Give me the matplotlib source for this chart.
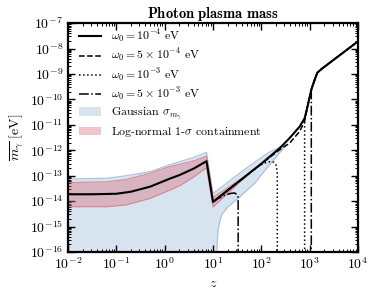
import numpy as np
import matplotlib
matplotlib.use("Agg")
import matplotlib.pyplot as plt
from matplotlib.ticker import LogLocator, FuncFormatter, NullFormatter
from matplotlib.patches import Patch

plt.rcParams['font.family'] = 'serif'
plt.rcParams['font.serif'] = ['cmr10', 'DejaVu Serif']
plt.rcParams['mathtext.fontset'] = 'cm'
plt.rcParams['axes.unicode_minus'] = False
plt.rcParams['axes.formatter.use_mathtext'] = True

# ---- data (log10 z, log10 m in eV) ----
# mean mass, omega_0 = 1e-4 eV
lz_solid = [-2, -1.5, -1, -0.7, -0.3, 0.1, 0.314, 0.6, 0.866, 1.0, 1.5, 2.0, 2.38,
            2.587, 2.793, 2.897, 2.965, 3.035, 3.10, 3.16, 3.25, 4.0]
lm_solid = [-13.73, -13.73, -13.71, -13.63, -13.43, -13.12, -12.97, -12.72, -12.43,
            -14.03, -13.28, -12.53, -11.92, -11.52, -11.07, -10.74, -10.21, -9.62,
            -9.25, -8.95, -8.80, -7.72]

# omega_0 = 5e-4 eV
lz_dash = [1.0, 1.5, 2.0, 2.2, 2.38, 2.587, 2.793, 2.897, 2.93, 2.965, 3.035, 3.10,
           3.16, 3.25, 4.0]
lm_dash = [-14.03, -13.28, -12.53, -12.24, -11.98, -11.72, -11.26, -10.86, -10.55,
           -10.21, -9.62, -9.25, -8.95, -8.80, -7.72]

# omega_0 = 1e-3 eV (nan = no plasma mass)
lz_dot = [1.0, 1.5, 1.8, 1.95, 2.07, 2.17, 2.26, 2.31, 2.33, 2.332, np.nan,
          2.897, 2.8971, 2.965, 3.035, 3.10, 3.16, 3.25, 4.0]
lm_dot = [-14.03, -13.28, -12.83, -12.62, -12.50, -12.45, -12.47, -12.60, -12.90,
          -17, np.nan, -17, -10.80, -10.21, -9.62, -9.25, -8.95, -8.80, -7.72]

# omega_0 = 5e-3 eV
lz_dd = [1.0, 1.1, 1.25, 1.38, 1.45, 1.5, 1.52, 1.522, np.nan,
         3.035, 3.0351, 3.10, 3.16, 3.25, 4.0]
lm_dd = [-14.03, -13.90, -13.76, -13.69, -13.68, -13.75, -13.85, -17, np.nan,
         -17, -9.62, -9.25, -8.95, -8.80, -7.72]

# Gaussian sigma band
lz_gauss = [-2, -1.2, -0.8, -0.3, 0.1, 0.314, 0.6, 0.866, 1.0, 1.06, 1.08, 1.105,
            1.175, 1.31, 1.52, 1.86, 2.14, 2.4, 2.5]
lm_gauss_hi = [-13.13, -13.10, -13.00, -12.84, -12.57, -12.45, -12.28, -12.08,
               -13.69, -13.62, -13.59, -13.55, -13.45, -13.25, -12.94, -12.47,
               -12.10, -11.86, -11.77]
lm_gauss_lo = [-17, -17, -17, -17, -17, -17, -17, -17, -17, -17, -15.9, -15.13,
               -14.54, -14.22, -13.89, -13.30, -12.64, -12.05, -11.80]

# log-normal 1-sigma band
lz_logn = [-2, -1.2, -0.8, -0.3, 0.1, 0.314, 0.6, 0.866, 1.0, 1.3, 1.6, 1.9]
lm_logn_hi = [-13.27, -13.24, -13.15, -12.90, -12.64, -12.55, -12.42, -12.23,
              -13.85, -13.48, -13.10, -12.68]
lm_logn_lo = [-14.22, -14.22, -14.15, -13.89, -13.57, -13.39, -13.05, -12.68,
              -14.23, -13.70, -13.17, -12.68]

labels = [r'$\omega_0 = 10^{-4}$ eV', r'$\omega_0 = 5\times10^{-4}$ eV',
          r'$\omega_0 = 10^{-3}$ eV', r'$\omega_0 = 5\times10^{-3}$ eV']


def p(a):
    return 10 ** np.asarray(a, dtype=float)


fig = plt.figure(figsize=(3.74, 3.0), dpi=100)
ax = fig.add_axes([0.182, 0.16, 0.775, 0.763])

blue_fill = '#d7e3ee'
blue_edge = '#a3c1dc'
red_base = '#d76e7d'

ax.fill_between(p(lz_gauss), p(lm_gauss_lo), p(lm_gauss_hi), color=blue_fill,
                lw=0, zorder=1)
ax.plot(p(lz_gauss), p(lm_gauss_hi), color=blue_edge, lw=0.8, zorder=1.5)
ax.plot(p(lz_gauss), p(lm_gauss_lo), color=blue_edge, lw=0.8, zorder=1.5)
ax.fill_between(p(lz_logn), p(lm_logn_lo), p(lm_logn_hi), color=red_base,
                alpha=0.4, lw=0, zorder=2)
ax.plot(p(lz_logn), p(lm_logn_hi), color='#d9808d', lw=0.7, zorder=2.5)
ax.plot(p(lz_logn), p(lm_logn_lo), color='#d9808d', lw=0.7, zorder=2.5)

ax.plot(p(lz_solid), p(lm_solid), color='k', lw=1.5, zorder=5, label=labels[0])
ax.plot(p(lz_dash), p(lm_dash), color='k', lw=1.1, ls='--', zorder=4, label=labels[1])
ax.plot(p(lz_dot), p(lm_dot), color='k', lw=1.1, ls=':', zorder=4, label=labels[2])
ax.plot(p(lz_dd), p(lm_dd), color='k', lw=1.1, ls='-.', zorder=4, label=labels[3])

ax.set_xscale('log')
ax.set_yscale('log')
ax.set_xlim(1e-2, 1e4)
ax.set_ylim(1e-16, 1e-7)

fmt = FuncFormatter(lambda v, pos: r'$10^{%d}$' % int(round(np.log10(v))))
for axis in (ax.xaxis, ax.yaxis):
    axis.set_major_locator(LogLocator(base=10, numticks=20))
    axis.set_minor_locator(LogLocator(base=10, subs=np.arange(2, 10), numticks=200))
    axis.set_major_formatter(fmt)
    axis.set_minor_formatter(NullFormatter())
ax.tick_params(which='both', direction='in', top=True, right=True, labelsize=10)
ax.tick_params(which='major', length=5, width=1)
ax.tick_params(which='minor', length=2.5, width=0.7)
for s in ax.spines.values():
    s.set_linewidth(1.6)

ax.set_xlabel(r'$z$', fontsize=10)
ax.set_ylabel(r'$\overline{m_\gamma}$ [eV]', fontsize=10, labelpad=2)
ax.set_title(r'$\mathbf{Photon\ plasma\ mass}$', fontsize=10.5, pad=4)

handles, labs = ax.get_legend_handles_labels()
handles += [Patch(facecolor=blue_fill, edgecolor='none'),
            Patch(facecolor=red_base, alpha=0.4, edgecolor='none')]
labs += [r'Gaussian $\sigma_{m_\gamma}$', r'Log-normal 1-$\sigma$ containment']
ax.legend(handles, labs, loc='upper left', bbox_to_anchor=(0.02, 1.0),
          frameon=False, fontsize=8.6, handlelength=1.9, labelspacing=0.2,
          borderaxespad=0.2, borderpad=0.2, handletextpad=0.8)

fig.savefig('out.png', dpi=100)
